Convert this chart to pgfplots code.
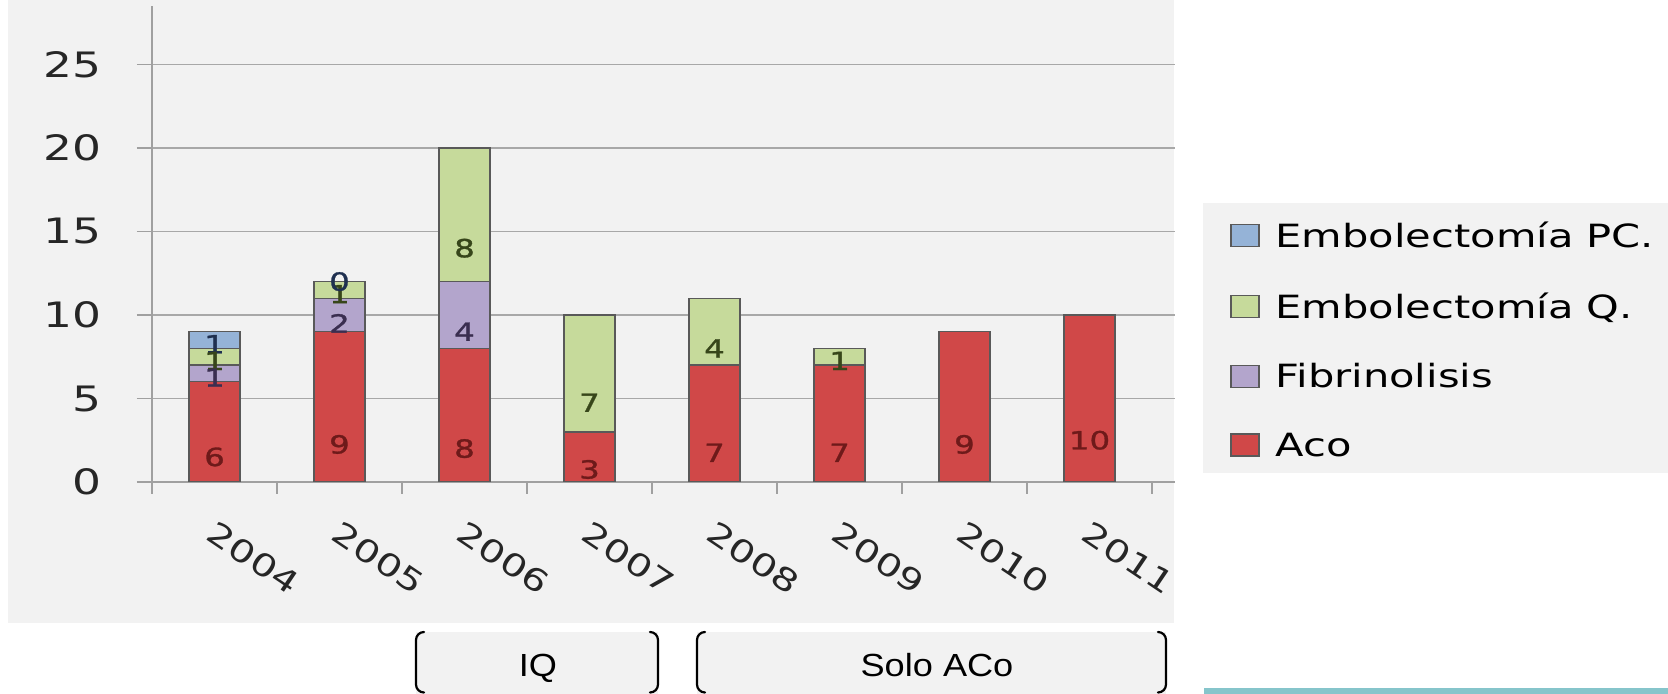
\documentclass[border=0pt]{standalone}
\usepackage{pgfplots}
\pgfplotsset{compat=1.18}
\usepackage{fontspec}
\newfontfamily\chartfont[FakeStretch=1.3]{DejaVu Sans}
\newfontfamily\labelfont[FakeStretch=1.3,FakeBold=1.2]{DejaVu Sans}
\newfontfamily\notefont[FakeStretch=1.13]{Liberation Sans}
\definecolor{chartbg}{HTML}{F2F2F2}
\definecolor{acored}{HTML}{D04848}
\definecolor{fibpurple}{HTML}{B3A5CC}
\definecolor{embgreen}{HTML}{C6DA9B}
\definecolor{embblue}{HTML}{95B3D7}
\definecolor{acolabel}{HTML}{6E1A1A}
\definecolor{fiblabel}{HTML}{3A2E50}
\definecolor{greenlabel}{HTML}{37461A}
\definecolor{bluelabel}{HTML}{1F3050}
\definecolor{gridgray}{HTML}{A8A8A8}
\definecolor{axisgray}{HTML}{A0A0A0}
\definecolor{barteal}{HTML}{86C5CB}
\tikzset{barlabel/.style={font=\labelfont\fontsize{25bp}{30bp}\selectfont, anchor=center}}
\pgfplotsset{
  yearaxis/.style={
    at={(152bp,212bp)}, anchor=south west,
    x=125bp, y=16.7bp,
    xmin=-0.5, xmax=7.68, ymin=0, ymax=28.5},
}
\begin{document}
\begin{tikzpicture}[x=1bp,y=1bp]
\useasboundingbox (0,0) rectangle (1668,694);
\fill[white] (0,0) rectangle (1668,694);
% chart panel and legend panel
\fill[chartbg] (8,71) rectangle (1174,694);
\fill[chartbg] (1203,221) rectangle (1668,491);
\begin{axis}[
  yearaxis,
  axis x line*=bottom, axis y line*=left,
  axis line style={-, axisgray, line width=2bp},
  tick align=outside,
  ytick={0,5,...,25},
  xtick={0,...,7},
  xticklabels={2004,2005,2006,2007,2008,2009,2010,2011},
  minor xtick={-0.5,0.5,...,7.5},
  major tick length=15bp, minor tick length=12bp,
  every major x tick/.append style={draw=none},
  tick style={axisgray, line width=1.5bp},
  ymajorgrids, major grid style={gridgray, line width=1.2bp},
  ybar stacked, bar width=51bp,
  /pgf/number format/assume math mode=true,
  yticklabel style={font=\chartfont\fontsize{35bp}{41bp}\selectfont, text=black!85,
    anchor=east, inner sep=0pt, xshift=-35bp},
  xticklabel style={font=\chartfont\fontsize{31bp}{37bp}\selectfont, text=black!85,
    rotate=-34, anchor=north west, inner sep=0pt, xshift=15bp, yshift=-17bp},
  legend style={draw=none, fill=none, at={(1.0543,0.5462)}, anchor=north west,
    font=\chartfont\fontsize{32bp}{37bp}\selectfont, inner sep=0pt,
    row sep=43.5bp, column sep=16bp, nodes={inner sep=0pt}},
  legend cell align=left,
  reverse legend,
  legend image code/.code={\draw[#1] (0bp,-11bp) rectangle (28bp,11bp);},
  point meta=explicit symbolic,
  visualization depends on={rawy \as \rawy},
  nodes near coords={\pgfplotspointmeta},
  every node near coord/.append style={barlabel, yshift=-\rawy*4.175bp},
]
\addplot[fill=acored, draw=black!65, line width=1.3bp,
  every node near coord/.append style={text=acolabel}]
  coordinates {(0,6)[6] (1,9)[9] (2,8)[8] (3,3)[3] (4,7)[7] (5,7)[7] (6,9)[9] (7,10)[10]};
\addplot[fill=fibpurple, draw=black!65, line width=1.3bp,
  every node near coord/.append style={text=fiblabel}]
  coordinates {(0,1)[1] (1,2)[2] (2,4)[4] (3,0)[] (4,0)[] (5,0)[] (6,0)[] (7,0)[]};
\addplot[fill=embgreen, draw=black!65, line width=1.3bp,
  every node near coord/.append style={text=greenlabel}]
  coordinates {(0,1)[1] (1,1)[1] (2,8)[8] (3,7)[7] (4,4)[4] (5,1)[1] (6,0)[] (7,0)[]};
\addplot[fill=embblue, draw=black!65, line width=1.3bp,
  every node near coord/.append style={text=bluelabel}]
  coordinates {(0,1)[1] (1,0)[0] (2,0)[] (3,0)[] (4,0)[] (5,0)[] (6,0)[] (7,0)[]};
\legend{Aco, Fibrinolisis, Embolectomía Q., Embolectomía PC.}
\end{axis}
% zero-height PC segment of 2005 sits on the stack total 9+2+1 = 12
\begin{axis}[yearaxis, hide axis,
  point meta=explicit symbolic,
  nodes near coords={\pgfplotspointmeta},
  every node near coord/.append style={barlabel, text=bluelabel}]
\addplot[draw=none, mark=none] coordinates {(1,12)[0]};
\end{axis}
% period brackets below the years
\fill[chartbg] (416,0) rectangle (658,62);
\fill[chartbg] (697,0) rectangle (1166,62);
\begin{scope}[line width=2.2bp, line cap=round]
\draw (424,62) arc[start angle=90,end angle=180,radius=8] -- (416,9.5) arc[start angle=180,end angle=270,radius=8];
\draw (650,62) arc[start angle=90,end angle=0,radius=8] -- (658,9.5) arc[start angle=0,end angle=-90,radius=8];
\draw (705,62) arc[start angle=90,end angle=180,radius=8] -- (697,9.5) arc[start angle=180,end angle=270,radius=8];
\draw (1158,62) arc[start angle=90,end angle=0,radius=8] -- (1166,9.5) arc[start angle=0,end angle=-90,radius=8];
\end{scope}
\node[font=\notefont\fontsize{32bp}{38bp}\selectfont, anchor=base] at (538,17) {IQ};
\node[font=\notefont\fontsize{32bp}{38bp}\selectfont, anchor=base] at (937,17) {Solo ACo};
\fill[barteal] (1204,0) rectangle (1668,6);
\end{tikzpicture}
\end{document}
